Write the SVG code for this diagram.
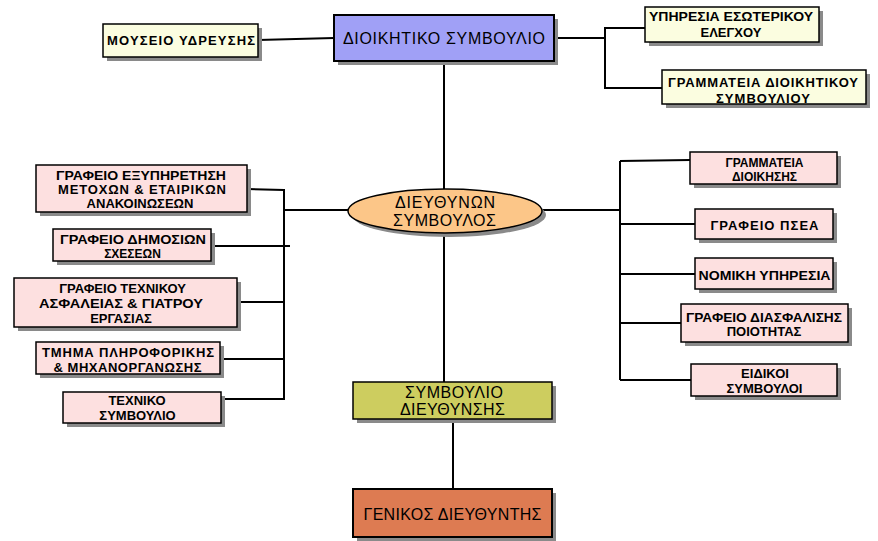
<svg xmlns="http://www.w3.org/2000/svg" width="878" height="541" viewBox="0 0 878 541">
<style>
.sh{fill:#8a8a8a}
.bx{stroke:#000;stroke-width:1.5}
.big{stroke:#000;stroke-width:2}
.yl{fill:#fbfde0}
.pk{fill:#fde0e0}
.t{font-family:"Liberation Sans",Arial,sans-serif;font-size:13px;font-weight:bold;text-anchor:middle;fill:#000}
.s{font-size:12px}
.T{font-family:"Liberation Sans",Arial,sans-serif;font-size:16px;text-anchor:middle;fill:#000}
.c{fill:none;stroke:#000;stroke-width:2}
</style>
<rect width="878" height="541" fill="#fff"/>
<g id="connectors">
<path class="c" d="M258,40 L334,38"/>
<path class="c" d="M554,38 L605,38 L605,28 L645,28 M605,28 L605,88 L662,88"/>
<path class="c" d="M444,61 L444,190"/>
<path class="c" d="M444,233 L444,385"/>
<path class="c" d="M453,419 L453,489 M453,537 L453,541"/>
<path class="c" d="M348,210 L284,210 M247,189 L284,190 M284,189 L284,400 M211,246 L290,246 M237,302 L284,302 M220,359 L284,359 M221,399 L284,399"/>
<path class="c" d="M543,210 L620,210 M620,161 L620,380 M620,161 L690,160 M620,224 L695,224 M620,274 L695,274 M620,323 L681,323 M620,380 L691,380"/>
</g>
<g id="dioikitiko">
<rect class="sh" x="338" y="19" width="220" height="46"/>
<rect class="big" x="334" y="15" width="220" height="46" fill="#a0a0f6"/>
<text class="T" x="444" y="44" textLength="202" lengthAdjust="spacing">ΔΙΟΙΚΗΤΙΚΟ ΣΥΜΒΟΥΛΙΟ</text>
</g>
<g id="mouseio">
<rect class="sh" x="107" y="28" width="155" height="33"/>
<rect class="bx yl" x="103" y="24" width="155" height="33"/>
<text class="t" x="181" y="45" textLength="148" lengthAdjust="spacing">ΜΟΥΣΕΙΟ  ΥΔΡΕΥΣΗΣ</text>
</g>
<g id="esoterikos">
<rect class="sh" x="649" y="11" width="174" height="35"/>
<rect class="bx yl" x="645" y="7" width="174" height="35"/>
<text class="t" x="731" y="21" textLength="164" lengthAdjust="spacingAndGlyphs">ΥΠΗΡΕΣΙΑ ΕΣΩΤΕΡΙΚΟΥ</text>
<text class="t" x="731" y="36.5">ΕΛΕΓΧΟΥ</text>
</g>
<g id="grammateia-ds">
<rect class="sh" x="666" y="74" width="204" height="34"/>
<rect class="bx yl" x="662" y="70" width="204" height="34"/>
<text class="t" x="763" y="87" textLength="190" lengthAdjust="spacing">ΓΡΑΜΜΑΤΕΙΑ  ΔΙΟΙΚΗΤΙΚΟΥ</text>
<text class="t" x="763" y="102.5" textLength="94" lengthAdjust="spacing">ΣΥΜΒΟΥΛΙΟΥ</text>
</g>
<g id="ceo">
<ellipse class="sh" cx="449" cy="215" rx="97" ry="22"/>
<ellipse class="bx" cx="445" cy="211" rx="97" ry="22" fill="#fcc688"/>
<text class="T" x="445" y="207.5" textLength="100" lengthAdjust="spacing">ΔΙΕΥΘΥΝΩΝ</text>
<text class="T" x="444.5" y="226" textLength="103" lengthAdjust="spacing">ΣΥΜΒΟΥΛΟΣ</text>
</g>
<g id="l1">
<rect class="sh" x="40" y="169" width="211" height="47"/>
<rect class="bx pk" x="36" y="165" width="211" height="47"/>
<text class="t" x="141" y="180" textLength="170" lengthAdjust="spacingAndGlyphs">ΓΡΑΦΕΙΟ ΕΞΥΠΗΡΕΤΗΣΗ</text>
<text class="t" x="142" y="194" textLength="168" lengthAdjust="spacing">ΜΕΤΟΧΩΝ &amp; ΕΤΑΙΡΙΚΩΝ</text>
<text class="t" x="140" y="208">ΑΝΑΚΟΙΝΩΣΕΩΝ</text>
</g>
<g id="l2">
<rect class="sh" x="57" y="233" width="158" height="32"/>
<rect class="bx pk" x="53" y="229" width="158" height="32"/>
<text class="t s" x="133" y="243.5" textLength="146" lengthAdjust="spacingAndGlyphs">ΓΡΑΦΕΙΟ ΔΗΜΟΣΙΩΝ</text>
<text class="t s" x="132.5" y="257.5">ΣΧΕΣΕΩΝ</text>
</g>
<g id="l3">
<rect class="sh" x="18" y="282" width="223" height="49"/>
<rect class="bx pk" x="14" y="278" width="223" height="49"/>
<text class="t" x="122.5" y="292.5">ΓΡΑΦΕΙΟ ΤΕΧΝΙΚΟΥ</text>
<text class="t" x="121" y="307.5" textLength="164" lengthAdjust="spacingAndGlyphs">ΑΣΦΑΛΕΙΑΣ &amp; ΓΙΑΤΡΟΥ</text>
<text class="t" x="121" y="322.5">ΕΡΓΑΣΙΑΣ</text>
</g>
<g id="l4">
<rect class="sh" x="40" y="346" width="184" height="32"/>
<rect class="bx pk" x="36" y="342" width="184" height="32"/>
<text class="t" x="128" y="357" textLength="172" lengthAdjust="spacing">ΤΜΗΜΑ ΠΛΗΡΟΦΟΡΙΚΗΣ</text>
<text class="t" x="127.5" y="372" textLength="148" lengthAdjust="spacing">&amp; ΜΗΧΑΝΟΡΓΑΝΩΣΗΣ</text>
</g>
<g id="l5">
<rect class="sh" x="67" y="396" width="158" height="31"/>
<rect class="bx pk" x="63" y="392" width="158" height="31"/>
<text class="t" x="137" y="405">ΤΕΧΝΙΚΟ</text>
<text class="t" x="137.5" y="419.5">ΣΥΜΒΟΥΛΙΟ</text>
</g>
<g id="r1">
<rect class="sh" x="694" y="156" width="147" height="32"/>
<rect class="bx pk" x="690" y="152" width="147" height="32"/>
<text class="t s" x="764.5" y="166.5">ΓΡΑΜΜΑΤΕΙΑ</text>
<text class="t s" x="764.5" y="180.5">ΔΙΟΙΚΗΣΗΣ</text>
</g>
<g id="r2">
<rect class="sh" x="699" y="213" width="138" height="30"/>
<rect class="bx pk" x="695" y="209" width="138" height="30"/>
<text class="t" x="764.5" y="230" textLength="108" lengthAdjust="spacing">ΓΡΑΦΕΙΟ  ΠΣΕΑ</text>
</g>
<g id="r3">
<rect class="sh" x="699" y="262" width="138" height="31"/>
<rect class="bx pk" x="695" y="258" width="138" height="31"/>
<text class="t" x="764.5" y="280" textLength="132" lengthAdjust="spacingAndGlyphs">ΝΟΜΙΚΗ ΥΠΗΡΕΣΙΑ</text>
</g>
<g id="r4">
<rect class="sh" x="685" y="308" width="167" height="38"/>
<rect class="bx pk" x="681" y="304" width="167" height="38"/>
<text class="t" x="764" y="321.5" textLength="156" lengthAdjust="spacingAndGlyphs">ΓΡΑΦΕΙΟ ΔΙΑΣΦΑΛΙΣΗΣ</text>
<text class="t" x="764" y="336">ΠΟΙΟΤΗΤΑΣ</text>
</g>
<g id="r5">
<rect class="sh" x="695" y="368" width="146" height="32"/>
<rect class="bx pk" x="691" y="364" width="146" height="32"/>
<text class="t" x="765" y="378">ΕΙΔΙΚΟΙ</text>
<text class="t" x="764.5" y="392.5">ΣΥΜΒΟΥΛΟΙ</text>
</g>
<g id="symvoulio-dieythynsis">
<rect class="sh" x="357" y="386" width="199" height="37"/>
<rect class="bx" x="353" y="382" width="199" height="37" fill="#cdcd5f"/>
<text class="T" x="454" y="398" textLength="98" lengthAdjust="spacing">ΣΥΜΒΟΥΛΙΟ</text>
<text class="T" x="452.5" y="415" textLength="105" lengthAdjust="spacing">ΔΙΕΥΘΥΝΣΗΣ</text>
</g>
<g id="genikos">
<rect class="sh" x="357" y="493" width="199" height="48"/>
<rect class="big" x="353" y="489" width="199" height="48" fill="#dd7b52"/>
<text class="T" x="452.5" y="520" textLength="178" lengthAdjust="spacing">ΓΕΝΙΚΟΣ ΔΙΕΥΘΥΝΤΗΣ</text>
</g>
</svg>
